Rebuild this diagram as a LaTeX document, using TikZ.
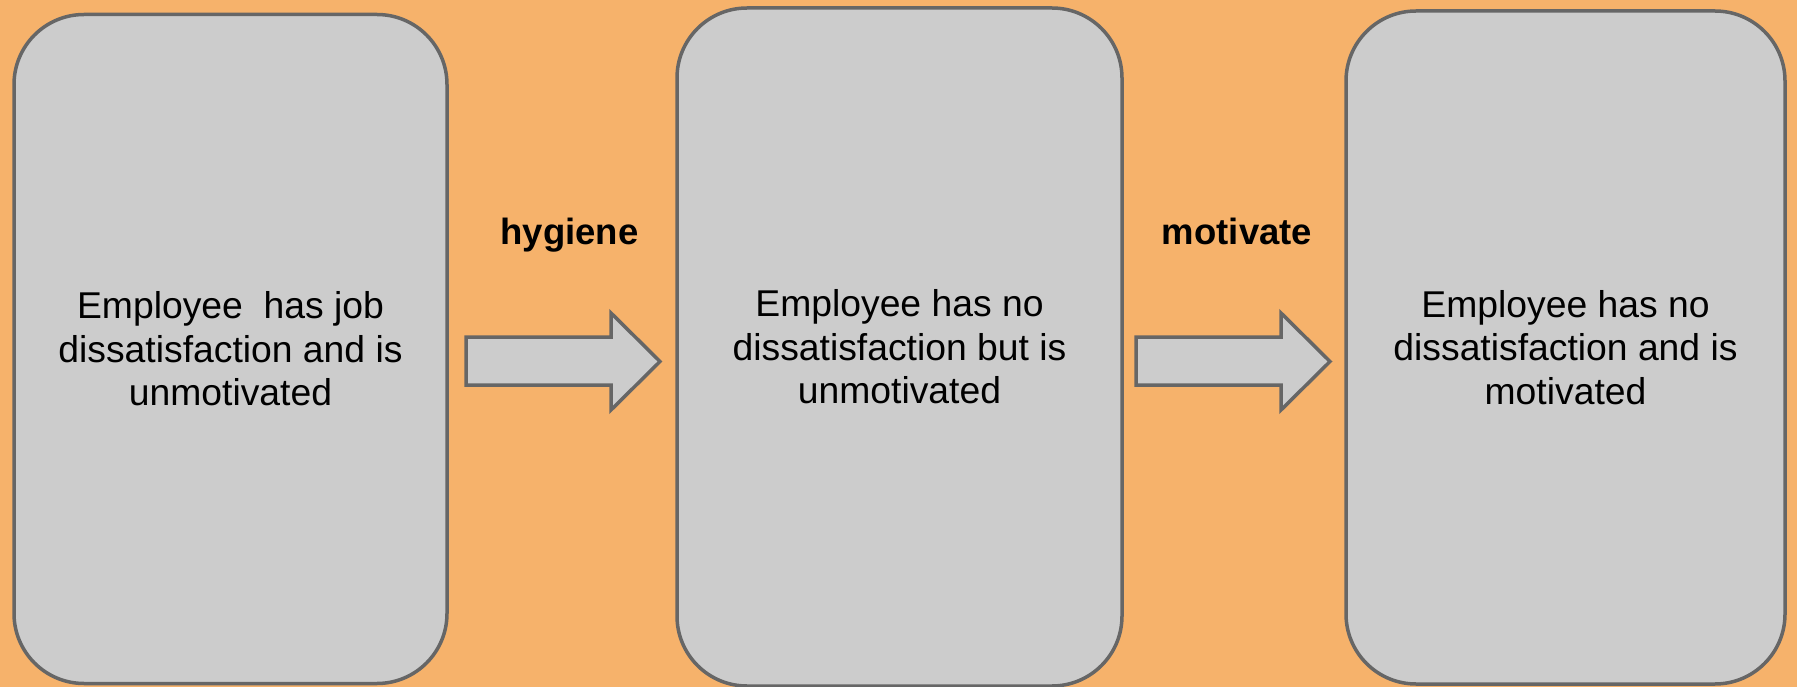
\documentclass[tikz,border=0pt]{standalone}
\usepackage{fontspec}
\setmainfont{Liberation Sans}
\definecolor{bgorange}{HTML}{F6B26B}
\definecolor{boxgray}{HTML}{CCCCCC}
\definecolor{edgegray}{HTML}{666666}
\tikzset{
  stagebox/.style={draw=edgegray, fill=boxgray, line width=3.5pt, rounded corners=70pt,
    align=center, inner sep=0pt, font=\fontsize{37.3}{43.5}\selectfont, text=black},
  blockarrow/.style={draw=edgegray, fill=boxgray, line width=3.5pt, line join=miter},
  steplabel/.style={font=\fontsize{36.5}{43}\selectfont\bfseries, anchor=base, inner sep=0pt, text=black}
}
\begin{document}
\begin{tikzpicture}[x=1pt,y=-1pt]
\fill[bgorange] (0,0) rectangle (1797,687);
\useasboundingbox (0,0) rectangle (1797,687);
\node[stagebox, minimum width=433pt, minimum height=669pt] (b1) at (230.5,349)
  {Employee\ \ has job\\dissatisfaction and is\\unmotivated};
\node[stagebox, minimum width=445pt, minimum height=678pt] (b2) at (899.5,347)
  {Employee has no\\dissatisfaction but is\\unmotivated};
\node[stagebox, minimum width=439pt, minimum height=673pt] (b3) at (1565.5,347.5)
  {Employee has no\\dissatisfaction and is\\motivated};
\draw[blockarrow] (466,337) -- (611,337) -- (611,313) -- (660,361.5) -- (611,410) -- (611,385) -- (466,385) -- cycle;
\draw[blockarrow] (1136,337) -- (1281,337) -- (1281,313) -- (1330,361.5) -- (1281,410) -- (1281,385) -- (1136,385) -- cycle;
\node[steplabel] (l1) at (569.5,245) {hygiene};
\node[steplabel] (l2) at (1237,245) {motivate};
\end{tikzpicture}
\end{document}
